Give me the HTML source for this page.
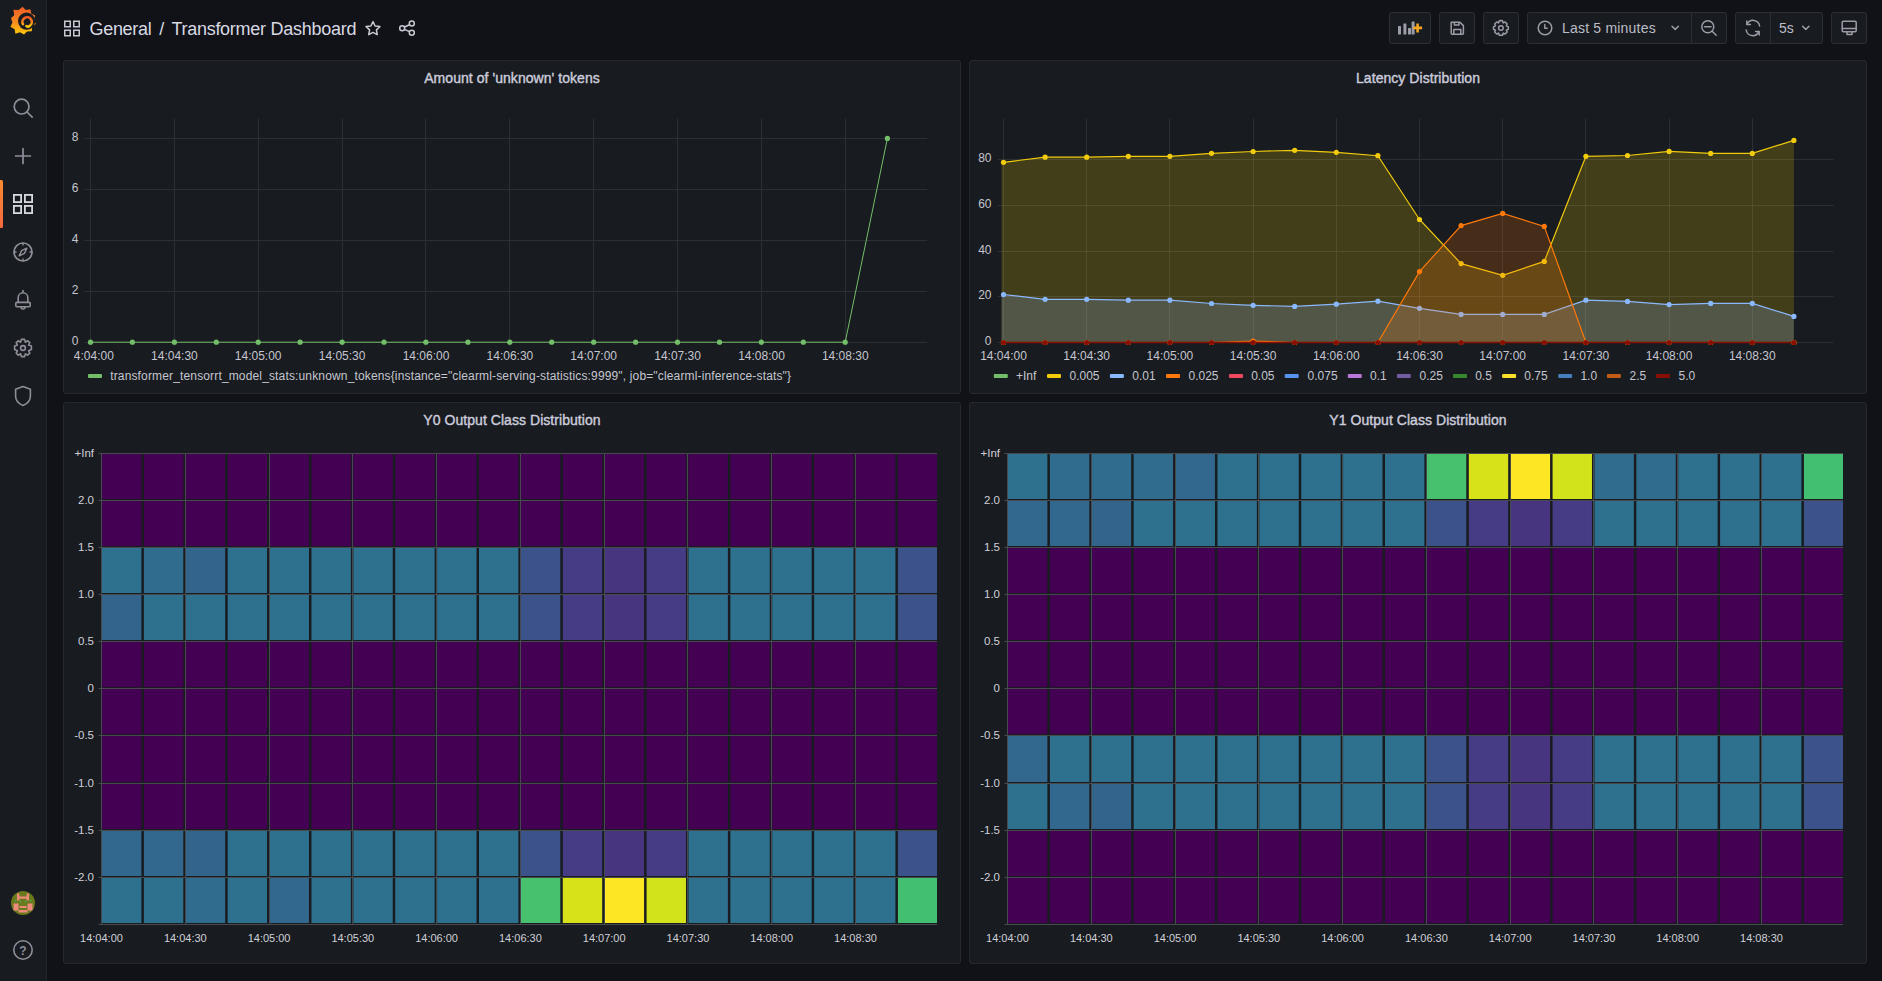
<!DOCTYPE html>
<html><head><meta charset="utf-8"><title>Transformer Dashboard - Grafana</title>
<style>
*{box-sizing:border-box;margin:0;padding:0}
html,body{width:1882px;height:981px;overflow:hidden;background:#111217;font-family:"Liberation Sans", sans-serif;color:#ccccdc}
.abs{position:absolute}
.sidebar{position:absolute;left:0;top:0;width:47px;height:981px;background:#181b1f;border-right:1px solid #22252a}
.panel{position:absolute;background:#181b1f;border:1px solid #25282d;border-radius:3px}
.ptitle{position:absolute;left:0;right:0;top:8.6px;text-align:center;font-size:14px;font-weight:400;letter-spacing:0.05px;-webkit-text-stroke:0.4px #ccccdc;color:#ccccdc;line-height:16px}
.btn{position:absolute;top:12px;height:32px;background:#181b1f;border:1px solid #2a2d33;border-radius:2px}
svg{position:absolute;left:0;top:0;overflow:visible}
</style></head><body>

<div class="sidebar"></div>
<svg width="47" height="981" viewBox="0 0 47 981">
<defs><linearGradient id="lg" x1="0" y1="0" x2="0" y2="1"><stop offset="0" stop-color="#f05a28"/><stop offset="0.55" stop-color="#f58a1f"/><stop offset="1" stop-color="#fbca0a"/></linearGradient></defs>
<g transform="translate(23.2,20.6)">
<path fill="url(#lg)" d="M-0.6,-13.8 L2.6,-10.6 L7.2,-11.4 L8.0,-7.0 L12.0,-5.0 L10.8,-0.8 L12.6,3.4 L9.0,6.0 L8.6,10.6 L3.8,10.8 L0.8,13.8 L-3.2,11.6 L-7.8,13.2 L-8.6,8.6 L-12.8,6.2 L-10.8,1.8 L-12.2,-2.6 L-9.0,-5.4 L-9.8,-10.8 L-4.6,-10.6 Z"/>
<circle cx="3.4" cy="0.5" r="8.6" fill="#181b1f"/>
<path fill="none" stroke="url(#lg)" stroke-width="2.6" stroke-linecap="round" d="M-0.2,3.6 A4.7,4.7 0 1 1 6.4,5.3 Q4.8,6.6 3.2,5.4"/>
</g>
<g fill="none" stroke="#8e8e9a" stroke-width="1.7" stroke-linecap="round" stroke-linejoin="round">
<circle cx="21.6" cy="106.6" r="7.4"/><path d="M27.0,112.0 L32.2,117.2"/>
<path d="M23,148.6 V163.4 M15.6,156 H30.4"/>
<circle cx="23" cy="252" r="9"/><path d="M23,243.2 V245 M23,259 V260.8 M14.2,252 H16 M30,252 H31.8" stroke-width="1.4"/>
<path d="M26.8,248.2 L24.4,253.4 L19.2,255.8 L21.6,250.6 Z" stroke-width="1.4"/>
<path d="M18.2,302.4 V297.6 A4.8,4.8 0 0 1 27.8,297.6 V302.4 M21,307 A2,2 0 0 0 25,307 M23,290.6 V292.6" stroke-width="1.6"/><rect x="15.8" y="302.4" width="14.4" height="4.4" rx="1" stroke-width="1.6"/>
<path d="M23,386.5 L30.4,389.2 V396 C30.4,400.6 27.4,403.8 23,405.5 C18.6,403.8 15.6,400.6 15.6,396 V389.2 Z" stroke-width="1.6"/>
<circle cx="23" cy="348" r="2.4" stroke-width="1.6"/>
<circle cx="23" cy="950" r="9.2" stroke-width="1.6"/>
</g>
<path fill="none" stroke="#8e8e9a" stroke-width="1.6" d="M23,339.4 L24.6,339.4 L25.4,342.2 L27.8,340.8 L29.8,342.6 L28.6,345.0 L31.4,346.0 V349.6 L28.6,350.8 L29.8,353.2 L27.6,355.2 L25.4,353.8 L24.6,356.6 H21.4 L20.6,353.8 L18.2,355.2 L16.2,353.2 L17.4,350.8 L14.6,349.6 V346.0 L17.4,345.0 L16.2,342.6 L18.2,340.8 L20.6,342.2 L21.4,339.4 Z" stroke-linejoin="round"/>
<text x="23" y="954.6" text-anchor="middle" font-family="Liberation Sans" font-weight="700" font-size="12" fill="#8e8e9a">?</text>
<g fill="none" stroke="#d8d9e0" stroke-width="1.8">
<rect x="13.9" y="194.9" width="7.2" height="7.2"/><rect x="24.9" y="194.9" width="7.2" height="7.2"/>
<rect x="13.9" y="205.9" width="7.2" height="7.2"/><rect x="24.9" y="205.9" width="7.2" height="7.2"/>
</g>
<defs><linearGradient id="ob" x1="0" y1="0" x2="0" y2="1"><stop offset="0" stop-color="#fd8a30"/><stop offset="1" stop-color="#f4683f"/></linearGradient></defs><rect x="-2" y="180" width="5" height="48" rx="1.5" fill="url(#ob)"/>
<circle cx="23" cy="903" r="12" fill="#697a1c"/>
<g fill="#ee8a7c">
<rect x="17" y="893.5" width="2.4" height="7"/><rect x="26.6" y="893.5" width="2.4" height="7"/><rect x="17" y="896.5" width="12" height="2.2"/>
<rect x="13.5" y="903.5" width="5" height="7"/><rect x="27.5" y="903.5" width="5" height="7"/><rect x="19.5" y="906" width="7" height="2"/><rect x="18.5" y="910" width="9" height="2.5"/>
</g>
<g fill="#3cb878"><rect x="20" y="901" width="1.2" height="1.2"/><rect x="25" y="901" width="1.2" height="1.2"/><rect x="15" y="900" width="1.2" height="1.2"/><rect x="30" y="900" width="1.2" height="1.2"/></g>
</svg>
<svg width="1882" height="56" viewBox="0 0 1882 56">
<g fill="none" stroke="#c7c8d2" stroke-width="1.5">
<rect x="64.75" y="21.25" width="5.5" height="5.5"/><rect x="73.75" y="21.25" width="5.5" height="5.5"/>
<rect x="64.75" y="30.25" width="5.5" height="5.5"/><rect x="73.75" y="30.25" width="5.5" height="5.5"/>
</g>
<g fill="none" stroke="#c7c8d2" stroke-width="1.5" stroke-linejoin="round" stroke-linecap="round">
<path d="M373,21.6 L375.1,26.0 L379.9,26.6 L376.4,29.9 L377.3,34.6 L373,32.3 L368.7,34.6 L369.6,29.9 L366.1,26.6 L370.9,26.0 Z"/>
<circle cx="411.8" cy="23.6" r="2.5"/><circle cx="402.2" cy="28.2" r="2.5"/><circle cx="411.8" cy="32.8" r="2.5"/>
<path d="M404.5,27.0 L409.5,24.8 M404.5,29.4 L409.5,31.6"/>
</g>
<text x="89.5" y="34.8" font-family="Liberation Sans" font-size="18" letter-spacing="-0.3" fill="#d8d9e3">General</text>
<text x="159.2" y="34.8" font-family="Liberation Sans" font-size="18" fill="#d8d9e3">/</text><text x="171.4" y="34.8" font-family="Liberation Sans" font-size="18" letter-spacing="-0.27" fill="#d8d9e3">Transformer Dashboard</text>
</svg>
<svg width="1882" height="56" viewBox="0 0 1882 56">
<rect x="1389.5" y="12.5" width="41" height="31" rx="2" fill="#181b1f" stroke="#2b2e34" stroke-width="1"/>
<rect x="1439.5" y="12.5" width="35" height="31" rx="2" fill="#181b1f" stroke="#2b2e34" stroke-width="1"/>
<rect x="1483.5" y="12.5" width="35" height="31" rx="2" fill="#181b1f" stroke="#2b2e34" stroke-width="1"/>
<rect x="1527.5" y="12.5" width="199" height="31" rx="2" fill="#181b1f" stroke="#2b2e34" stroke-width="1"/>
<path d="M1691.5,13 V43" stroke="#2b2e34"/>
<rect x="1735.5" y="12.5" width="87" height="31" rx="2" fill="#181b1f" stroke="#2b2e34" stroke-width="1"/>
<path d="M1770.5,13 V43" stroke="#2b2e34"/>
<rect x="1831.5" y="12.5" width="35" height="31" rx="2" fill="#181b1f" stroke="#2b2e34" stroke-width="1"/>
<g fill="#9c9ca8">
<rect x="1398" y="26" width="3" height="8.5" rx="0.5"/><rect x="1403.4" y="23.5" width="3" height="11" rx="0.5"/>
<rect x="1408" y="28" width="3" height="6.5" rx="0.5"/><rect x="1411.6" y="21.5" width="3" height="13" rx="0.5"/>
</g>
<path d="M1417.6,23.4 V32.4 M1413.1,27.9 H1422.1" stroke="#f5a623" stroke-width="2.6"/>
<g fill="none" stroke="#9c9ca8" stroke-width="1.5" stroke-linejoin="round" stroke-linecap="round">
<path d="M1451.2,22.2 H1460 L1463.4,25.6 V33.2 Q1463.4,34.2 1462.4,34.2 H1452.2 Q1451.2,34.2 1451.2,33.2 Z"/>
<path d="M1454.4,22.4 V25 H1459 V22.4 M1453.8,34 V29.4 H1460.8 V34"/>
<circle cx="1500.9" cy="28" r="2.3"/>
<path d="M1500.9,20.6 L1502.5,20.8 L1503.2,22.9 L1505.1,22.0 L1507.2,24.0 L1506.3,25.9 L1508.3,26.7 V29.3 L1506.3,30.1 L1507.2,32.0 L1505.1,34.0 L1503.2,33.1 L1502.5,35.2 H1499.3 L1498.6,33.1 L1496.7,34.0 L1494.6,32.0 L1495.5,30.1 L1493.5,29.3 V26.7 L1495.5,25.9 L1494.6,24.0 L1496.7,22.0 L1498.6,22.9 L1499.3,20.8 Z"/>
<circle cx="1545" cy="28" r="6.8"/><path d="M1544.8,24.4 V28.2 H1547.2" stroke-width="1.4"/>
<path d="M1672,26.2 L1675.2,29.4 L1678.4,26.2"/>
<circle cx="1707.8" cy="26.8" r="6"/><path d="M1704.6,26.8 H1711 M1712.2,31.2 L1716.2,35.2"/>
<path d="M1759.6,26 A6.6,6.6 0 0 0 1747,24.4 M1746.2,30 A6.6,6.6 0 0 0 1758.8,31.6"/>
<path d="M1746.8,21 V24.6 H1750.4 M1759.2,35 V31.4 H1755.6"/>
<path d="M1802.6,26.2 L1805.8,29.4 L1809,26.2"/>
<rect x="1842.2" y="21.2" width="14" height="10.6" rx="1.2"/><path d="M1842.4,28.6 H1856 M1847,32 V34.6 H1852 V32"/>
</g>
<text x="1562" y="32.9" font-family="Liberation Sans" font-size="14" letter-spacing="0.2" fill="#bcbdc8">Last 5 minutes</text>
<text x="1779" y="32.9" font-family="Liberation Sans" font-size="14" fill="#bcbdc8">5s</text>
</svg>
<div class="panel" style="left:63px;top:60px;width:898px;height:334px"><div class="ptitle">Amount of &#39;unknown&#39; tokens</div></div>
<div class="panel" style="left:969px;top:60px;width:898px;height:334px"><div class="ptitle">Latency Distribution</div></div>
<div class="panel" style="left:63px;top:402px;width:898px;height:562px"><div class="ptitle">Y0 Output Class Distribution</div></div>
<div class="panel" style="left:969px;top:402px;width:898px;height:562px"><div class="ptitle">Y1 Output Class Distribution</div></div>
<svg width="1882" height="981" viewBox="0 0 1882 981"><defs><clipPath id="clip1"><rect x="73.6" y="340" width="880" height="30"/></clipPath><clipPath id="clip2"><rect x="979" y="340" width="880" height="30"/></clipPath></defs>
<g font-family="Liberation Sans">
<path d="M84.5,342.5 H927.2" stroke="#2c2f34" stroke-width="1"/>
<path d="M84.5,291.5 H927.2" stroke="#2c2f34" stroke-width="1"/>
<path d="M84.5,240.5 H927.2" stroke="#2c2f34" stroke-width="1"/>
<path d="M84.5,189.5 H927.2" stroke="#2c2f34" stroke-width="1"/>
<path d="M84.5,138.5 H927.2" stroke="#2c2f34" stroke-width="1"/>
<path d="M90.5,118.6 V346.2" stroke="#2c2f34" stroke-width="1"/>
<path d="M174.5,118.6 V346.2" stroke="#2c2f34" stroke-width="1"/>
<path d="M258.5,118.6 V346.2" stroke="#2c2f34" stroke-width="1"/>
<path d="M342.5,118.6 V346.2" stroke="#2c2f34" stroke-width="1"/>
<path d="M425.5,118.6 V346.2" stroke="#2c2f34" stroke-width="1"/>
<path d="M509.5,118.6 V346.2" stroke="#2c2f34" stroke-width="1"/>
<path d="M593.5,118.6 V346.2" stroke="#2c2f34" stroke-width="1"/>
<path d="M677.5,118.6 V346.2" stroke="#2c2f34" stroke-width="1"/>
<path d="M761.5,118.6 V346.2" stroke="#2c2f34" stroke-width="1"/>
<path d="M845.5,118.6 V346.2" stroke="#2c2f34" stroke-width="1"/>
<text x="78.5" y="344.9" text-anchor="end" font-size="12" fill="#c5c6cf">0</text>
<text x="78.5" y="293.9" text-anchor="end" font-size="12" fill="#c5c6cf">2</text>
<text x="78.5" y="242.9" text-anchor="end" font-size="12" fill="#c5c6cf">4</text>
<text x="78.5" y="191.9" text-anchor="end" font-size="12" fill="#c5c6cf">6</text>
<text x="78.5" y="140.9" text-anchor="end" font-size="12" fill="#c5c6cf">8</text>
<g clip-path="url(#clip1)">
<text x="90.5" y="359.8" text-anchor="middle" font-size="12" fill="#c5c6cf">14:04:00</text>
<text x="174.4" y="359.8" text-anchor="middle" font-size="12" fill="#c5c6cf">14:04:30</text>
<text x="258.2" y="359.8" text-anchor="middle" font-size="12" fill="#c5c6cf">14:05:00</text>
<text x="342.1" y="359.8" text-anchor="middle" font-size="12" fill="#c5c6cf">14:05:30</text>
<text x="426.0" y="359.8" text-anchor="middle" font-size="12" fill="#c5c6cf">14:06:00</text>
<text x="509.9" y="359.8" text-anchor="middle" font-size="12" fill="#c5c6cf">14:06:30</text>
<text x="593.7" y="359.8" text-anchor="middle" font-size="12" fill="#c5c6cf">14:07:00</text>
<text x="677.6" y="359.8" text-anchor="middle" font-size="12" fill="#c5c6cf">14:07:30</text>
<text x="761.5" y="359.8" text-anchor="middle" font-size="12" fill="#c5c6cf">14:08:00</text>
<text x="845.3" y="359.8" text-anchor="middle" font-size="12" fill="#c5c6cf">14:08:30</text>
</g>
<path fill="none" stroke="#73bf69" stroke-width="1" d="M90.5,342.2 L132.4,342.2 L174.4,342.2 L216.3,342.2 L258.2,342.2 L300.1,342.2 L342.1,342.2 L384.0,342.2 L425.9,342.2 L467.9,342.2 L509.8,342.2 L551.7,342.2 L593.7,342.2 L635.6,342.2 L677.5,342.2 L719.5,342.2 L761.4,342.2 L803.3,342.2 L845.2,342.2 L887.4,138.4"/>
<circle cx="90.5" cy="342.2" r="2.6" fill="#73bf69"/>
<circle cx="132.4" cy="342.2" r="2.6" fill="#73bf69"/>
<circle cx="174.4" cy="342.2" r="2.6" fill="#73bf69"/>
<circle cx="216.3" cy="342.2" r="2.6" fill="#73bf69"/>
<circle cx="258.2" cy="342.2" r="2.6" fill="#73bf69"/>
<circle cx="300.1" cy="342.2" r="2.6" fill="#73bf69"/>
<circle cx="342.1" cy="342.2" r="2.6" fill="#73bf69"/>
<circle cx="384.0" cy="342.2" r="2.6" fill="#73bf69"/>
<circle cx="425.9" cy="342.2" r="2.6" fill="#73bf69"/>
<circle cx="467.9" cy="342.2" r="2.6" fill="#73bf69"/>
<circle cx="509.8" cy="342.2" r="2.6" fill="#73bf69"/>
<circle cx="551.7" cy="342.2" r="2.6" fill="#73bf69"/>
<circle cx="593.7" cy="342.2" r="2.6" fill="#73bf69"/>
<circle cx="635.6" cy="342.2" r="2.6" fill="#73bf69"/>
<circle cx="677.5" cy="342.2" r="2.6" fill="#73bf69"/>
<circle cx="719.5" cy="342.2" r="2.6" fill="#73bf69"/>
<circle cx="761.4" cy="342.2" r="2.6" fill="#73bf69"/>
<circle cx="803.3" cy="342.2" r="2.6" fill="#73bf69"/>
<circle cx="845.2" cy="342.2" r="2.6" fill="#73bf69"/>
<circle cx="887.4" cy="138.4" r="2.6" fill="#73bf69"/>
<rect x="88" y="374" width="14" height="4" rx="1" fill="#73bf69"/>
<text x="110.2" y="379.6" font-size="12" letter-spacing="0.15" fill="#c5c6cf">transformer_tensorrt_model_stats:unknown_tokens{instance="clearml-serving-statistics:9999", job="clearml-inference-stats"}</text>
</g><g font-family="Liberation Sans">
<path d="M997.6,342.5 H1833.6" stroke="#2c2f34" stroke-width="1"/>
<path d="M997.6,296.5 H1833.6" stroke="#2c2f34" stroke-width="1"/>
<path d="M997.6,251.5 H1833.6" stroke="#2c2f34" stroke-width="1"/>
<path d="M997.6,205.5 H1833.6" stroke="#2c2f34" stroke-width="1"/>
<path d="M997.6,159.5 H1833.6" stroke="#2c2f34" stroke-width="1"/>
<path d="M1003.5,118.6 V345.8" stroke="#2c2f34" stroke-width="1"/>
<path d="M1086.5,118.6 V345.8" stroke="#2c2f34" stroke-width="1"/>
<path d="M1169.5,118.6 V345.8" stroke="#2c2f34" stroke-width="1"/>
<path d="M1253.5,118.6 V345.8" stroke="#2c2f34" stroke-width="1"/>
<path d="M1336.5,118.6 V345.8" stroke="#2c2f34" stroke-width="1"/>
<path d="M1419.5,118.6 V345.8" stroke="#2c2f34" stroke-width="1"/>
<path d="M1502.5,118.6 V345.8" stroke="#2c2f34" stroke-width="1"/>
<path d="M1585.5,118.6 V345.8" stroke="#2c2f34" stroke-width="1"/>
<path d="M1669.5,118.6 V345.8" stroke="#2c2f34" stroke-width="1"/>
<path d="M1752.5,118.6 V345.8" stroke="#2c2f34" stroke-width="1"/>
<text x="991.5" y="345.4" text-anchor="end" font-size="12" fill="#c5c6cf">0</text>
<text x="991.5" y="299.4" text-anchor="end" font-size="12" fill="#c5c6cf">20</text>
<text x="991.5" y="254.4" text-anchor="end" font-size="12" fill="#c5c6cf">40</text>
<text x="991.5" y="208.4" text-anchor="end" font-size="12" fill="#c5c6cf">60</text>
<text x="991.5" y="162.4" text-anchor="end" font-size="12" fill="#c5c6cf">80</text>
<g clip-path="url(#clip2)">
<text x="1003.5" y="359.8" text-anchor="middle" font-size="12" fill="#c5c6cf">14:04:00</text>
<text x="1086.7" y="359.8" text-anchor="middle" font-size="12" fill="#c5c6cf">14:04:30</text>
<text x="1169.9" y="359.8" text-anchor="middle" font-size="12" fill="#c5c6cf">14:05:00</text>
<text x="1253.1" y="359.8" text-anchor="middle" font-size="12" fill="#c5c6cf">14:05:30</text>
<text x="1336.3" y="359.8" text-anchor="middle" font-size="12" fill="#c5c6cf">14:06:00</text>
<text x="1419.5" y="359.8" text-anchor="middle" font-size="12" fill="#c5c6cf">14:06:30</text>
<text x="1502.7" y="359.8" text-anchor="middle" font-size="12" fill="#c5c6cf">14:07:00</text>
<text x="1585.9" y="359.8" text-anchor="middle" font-size="12" fill="#c5c6cf">14:07:30</text>
<text x="1669.1" y="359.8" text-anchor="middle" font-size="12" fill="#c5c6cf">14:08:00</text>
<text x="1752.3" y="359.8" text-anchor="middle" font-size="12" fill="#c5c6cf">14:08:30</text>
</g>
<path fill="#73bf69" fill-opacity="0.2" d="M1001.5,342.5 L1001.5,342.5 L1003.5,342.5 L1045.1,342.5 L1086.7,342.5 L1128.3,342.5 L1169.9,342.5 L1211.5,342.5 L1253.1,342.5 L1294.7,342.5 L1336.3,342.5 L1377.9,342.5 L1419.5,342.5 L1461.1,342.5 L1502.7,342.5 L1544.3,342.5 L1585.9,342.5 L1627.5,342.5 L1669.1,342.5 L1710.7,342.5 L1752.3,342.5 L1793.9,342.5 L1793.9,342.5 Z"/>
<path fill="none" stroke="#73bf69" stroke-width="1.2" d="M1003.5,342.5 L1045.1,342.5 L1086.7,342.5 L1128.3,342.5 L1169.9,342.5 L1211.5,342.5 L1253.1,342.5 L1294.7,342.5 L1336.3,342.5 L1377.9,342.5 L1419.5,342.5 L1461.1,342.5 L1502.7,342.5 L1544.3,342.5 L1585.9,342.5 L1627.5,342.5 L1669.1,342.5 L1710.7,342.5 L1752.3,342.5 L1793.9,342.5"/>
<circle cx="1003.5" cy="342.5" r="2.6" fill="#73bf69"/>
<circle cx="1045.1" cy="342.5" r="2.6" fill="#73bf69"/>
<circle cx="1086.7" cy="342.5" r="2.6" fill="#73bf69"/>
<circle cx="1128.3" cy="342.5" r="2.6" fill="#73bf69"/>
<circle cx="1169.9" cy="342.5" r="2.6" fill="#73bf69"/>
<circle cx="1211.5" cy="342.5" r="2.6" fill="#73bf69"/>
<circle cx="1253.1" cy="342.5" r="2.6" fill="#73bf69"/>
<circle cx="1294.7" cy="342.5" r="2.6" fill="#73bf69"/>
<circle cx="1336.3" cy="342.5" r="2.6" fill="#73bf69"/>
<circle cx="1377.9" cy="342.5" r="2.6" fill="#73bf69"/>
<circle cx="1419.5" cy="342.5" r="2.6" fill="#73bf69"/>
<circle cx="1461.1" cy="342.5" r="2.6" fill="#73bf69"/>
<circle cx="1502.7" cy="342.5" r="2.6" fill="#73bf69"/>
<circle cx="1544.3" cy="342.5" r="2.6" fill="#73bf69"/>
<circle cx="1585.9" cy="342.5" r="2.6" fill="#73bf69"/>
<circle cx="1627.5" cy="342.5" r="2.6" fill="#73bf69"/>
<circle cx="1669.1" cy="342.5" r="2.6" fill="#73bf69"/>
<circle cx="1710.7" cy="342.5" r="2.6" fill="#73bf69"/>
<circle cx="1752.3" cy="342.5" r="2.6" fill="#73bf69"/>
<circle cx="1793.9" cy="342.5" r="2.6" fill="#73bf69"/>
<path fill="#f2cc0c" fill-opacity="0.2" d="M1001.5,342.5 L1001.5,162.3 L1003.5,162.3 L1045.1,157.2 L1086.7,157.2 L1128.3,156.3 L1169.9,156.3 L1211.5,153.3 L1253.1,151.5 L1294.7,150.3 L1336.3,152.3 L1377.9,155.7 L1419.5,219.5 L1461.1,263.6 L1502.7,275.3 L1544.3,261.4 L1585.9,156.3 L1627.5,155.5 L1669.1,151.4 L1710.7,153.4 L1752.3,153.4 L1793.9,140.4 L1793.9,342.5 Z"/>
<path fill="none" stroke="#f2cc0c" stroke-width="1.2" d="M1003.5,162.3 L1045.1,157.2 L1086.7,157.2 L1128.3,156.3 L1169.9,156.3 L1211.5,153.3 L1253.1,151.5 L1294.7,150.3 L1336.3,152.3 L1377.9,155.7 L1419.5,219.5 L1461.1,263.6 L1502.7,275.3 L1544.3,261.4 L1585.9,156.3 L1627.5,155.5 L1669.1,151.4 L1710.7,153.4 L1752.3,153.4 L1793.9,140.4"/>
<circle cx="1003.5" cy="162.3" r="2.6" fill="#f2cc0c"/>
<circle cx="1045.1" cy="157.2" r="2.6" fill="#f2cc0c"/>
<circle cx="1086.7" cy="157.2" r="2.6" fill="#f2cc0c"/>
<circle cx="1128.3" cy="156.3" r="2.6" fill="#f2cc0c"/>
<circle cx="1169.9" cy="156.3" r="2.6" fill="#f2cc0c"/>
<circle cx="1211.5" cy="153.3" r="2.6" fill="#f2cc0c"/>
<circle cx="1253.1" cy="151.5" r="2.6" fill="#f2cc0c"/>
<circle cx="1294.7" cy="150.3" r="2.6" fill="#f2cc0c"/>
<circle cx="1336.3" cy="152.3" r="2.6" fill="#f2cc0c"/>
<circle cx="1377.9" cy="155.7" r="2.6" fill="#f2cc0c"/>
<circle cx="1419.5" cy="219.5" r="2.6" fill="#f2cc0c"/>
<circle cx="1461.1" cy="263.6" r="2.6" fill="#f2cc0c"/>
<circle cx="1502.7" cy="275.3" r="2.6" fill="#f2cc0c"/>
<circle cx="1544.3" cy="261.4" r="2.6" fill="#f2cc0c"/>
<circle cx="1585.9" cy="156.3" r="2.6" fill="#f2cc0c"/>
<circle cx="1627.5" cy="155.5" r="2.6" fill="#f2cc0c"/>
<circle cx="1669.1" cy="151.4" r="2.6" fill="#f2cc0c"/>
<circle cx="1710.7" cy="153.4" r="2.6" fill="#f2cc0c"/>
<circle cx="1752.3" cy="153.4" r="2.6" fill="#f2cc0c"/>
<circle cx="1793.9" cy="140.4" r="2.6" fill="#f2cc0c"/>
<path fill="#8ab8ff" fill-opacity="0.2" d="M1001.5,342.5 L1001.5,294.5 L1003.5,294.5 L1045.1,299.3 L1086.7,299.3 L1128.3,300.2 L1169.9,300.2 L1211.5,303.5 L1253.1,305.3 L1294.7,306.4 L1336.3,304.2 L1377.9,301.2 L1419.5,308.3 L1461.1,314.4 L1502.7,314.4 L1544.3,314.4 L1585.9,300.2 L1627.5,301.4 L1669.1,304.6 L1710.7,303.4 L1752.3,303.4 L1793.9,316.4 L1793.9,342.5 Z"/>
<path fill="none" stroke="#8ab8ff" stroke-width="1.2" d="M1003.5,294.5 L1045.1,299.3 L1086.7,299.3 L1128.3,300.2 L1169.9,300.2 L1211.5,303.5 L1253.1,305.3 L1294.7,306.4 L1336.3,304.2 L1377.9,301.2 L1419.5,308.3 L1461.1,314.4 L1502.7,314.4 L1544.3,314.4 L1585.9,300.2 L1627.5,301.4 L1669.1,304.6 L1710.7,303.4 L1752.3,303.4 L1793.9,316.4"/>
<circle cx="1003.5" cy="294.5" r="2.6" fill="#8ab8ff"/>
<circle cx="1045.1" cy="299.3" r="2.6" fill="#8ab8ff"/>
<circle cx="1086.7" cy="299.3" r="2.6" fill="#8ab8ff"/>
<circle cx="1128.3" cy="300.2" r="2.6" fill="#8ab8ff"/>
<circle cx="1169.9" cy="300.2" r="2.6" fill="#8ab8ff"/>
<circle cx="1211.5" cy="303.5" r="2.6" fill="#8ab8ff"/>
<circle cx="1253.1" cy="305.3" r="2.6" fill="#8ab8ff"/>
<circle cx="1294.7" cy="306.4" r="2.6" fill="#8ab8ff"/>
<circle cx="1336.3" cy="304.2" r="2.6" fill="#8ab8ff"/>
<circle cx="1377.9" cy="301.2" r="2.6" fill="#8ab8ff"/>
<circle cx="1419.5" cy="308.3" r="2.6" fill="#8ab8ff"/>
<circle cx="1461.1" cy="314.4" r="2.6" fill="#8ab8ff"/>
<circle cx="1502.7" cy="314.4" r="2.6" fill="#8ab8ff"/>
<circle cx="1544.3" cy="314.4" r="2.6" fill="#8ab8ff"/>
<circle cx="1585.9" cy="300.2" r="2.6" fill="#8ab8ff"/>
<circle cx="1627.5" cy="301.4" r="2.6" fill="#8ab8ff"/>
<circle cx="1669.1" cy="304.6" r="2.6" fill="#8ab8ff"/>
<circle cx="1710.7" cy="303.4" r="2.6" fill="#8ab8ff"/>
<circle cx="1752.3" cy="303.4" r="2.6" fill="#8ab8ff"/>
<circle cx="1793.9" cy="316.4" r="2.6" fill="#8ab8ff"/>
<path fill="#ff780a" fill-opacity="0.2" d="M1001.5,342.5 L1001.5,342.5 L1003.5,342.5 L1045.1,342.5 L1086.7,342.5 L1128.3,342.5 L1169.9,342.5 L1211.5,342.5 L1253.1,341.0 L1294.7,342.5 L1336.3,342.5 L1377.9,342.5 L1419.5,271.6 L1461.1,225.6 L1502.7,213.4 L1544.3,226.4 L1585.9,342.5 L1627.5,342.5 L1669.1,342.5 L1710.7,342.5 L1752.3,342.5 L1793.9,342.5 L1793.9,342.5 Z"/>
<path fill="none" stroke="#ff780a" stroke-width="1.2" d="M1003.5,342.5 L1045.1,342.5 L1086.7,342.5 L1128.3,342.5 L1169.9,342.5 L1211.5,342.5 L1253.1,341.0 L1294.7,342.5 L1336.3,342.5 L1377.9,342.5 L1419.5,271.6 L1461.1,225.6 L1502.7,213.4 L1544.3,226.4 L1585.9,342.5 L1627.5,342.5 L1669.1,342.5 L1710.7,342.5 L1752.3,342.5 L1793.9,342.5"/>
<circle cx="1003.5" cy="342.5" r="2.6" fill="#ff780a"/>
<circle cx="1045.1" cy="342.5" r="2.6" fill="#ff780a"/>
<circle cx="1086.7" cy="342.5" r="2.6" fill="#ff780a"/>
<circle cx="1128.3" cy="342.5" r="2.6" fill="#ff780a"/>
<circle cx="1169.9" cy="342.5" r="2.6" fill="#ff780a"/>
<circle cx="1211.5" cy="342.5" r="2.6" fill="#ff780a"/>
<circle cx="1253.1" cy="341.0" r="2.6" fill="#ff780a"/>
<circle cx="1294.7" cy="342.5" r="2.6" fill="#ff780a"/>
<circle cx="1336.3" cy="342.5" r="2.6" fill="#ff780a"/>
<circle cx="1377.9" cy="342.5" r="2.6" fill="#ff780a"/>
<circle cx="1419.5" cy="271.6" r="2.6" fill="#ff780a"/>
<circle cx="1461.1" cy="225.6" r="2.6" fill="#ff780a"/>
<circle cx="1502.7" cy="213.4" r="2.6" fill="#ff780a"/>
<circle cx="1544.3" cy="226.4" r="2.6" fill="#ff780a"/>
<circle cx="1585.9" cy="342.5" r="2.6" fill="#ff780a"/>
<circle cx="1627.5" cy="342.5" r="2.6" fill="#ff780a"/>
<circle cx="1669.1" cy="342.5" r="2.6" fill="#ff780a"/>
<circle cx="1710.7" cy="342.5" r="2.6" fill="#ff780a"/>
<circle cx="1752.3" cy="342.5" r="2.6" fill="#ff780a"/>
<circle cx="1793.9" cy="342.5" r="2.6" fill="#ff780a"/>
<path fill="none" stroke="#890f02" stroke-width="1.5" d="M1003.5,342.5 L1045.1,342.5 L1086.7,342.5 L1128.3,342.5 L1169.9,342.5 L1211.5,342.5 L1253.1,342.5 L1294.7,342.5 L1336.3,342.5 L1377.9,342.5 L1419.5,342.5 L1461.1,342.5 L1502.7,342.5 L1544.3,342.5 L1585.9,342.5 L1627.5,342.5 L1669.1,342.5 L1710.7,342.5 L1752.3,342.5 L1793.9,342.5"/>
<circle cx="1003.5" cy="342.5" r="2.6" fill="#890f02"/>
<circle cx="1045.1" cy="342.5" r="2.6" fill="#890f02"/>
<circle cx="1086.7" cy="342.5" r="2.6" fill="#890f02"/>
<circle cx="1128.3" cy="342.5" r="2.6" fill="#890f02"/>
<circle cx="1169.9" cy="342.5" r="2.6" fill="#890f02"/>
<circle cx="1211.5" cy="342.5" r="2.6" fill="#890f02"/>
<circle cx="1253.1" cy="342.5" r="2.6" fill="#890f02"/>
<circle cx="1294.7" cy="342.5" r="2.6" fill="#890f02"/>
<circle cx="1336.3" cy="342.5" r="2.6" fill="#890f02"/>
<circle cx="1377.9" cy="342.5" r="2.6" fill="#890f02"/>
<circle cx="1419.5" cy="342.5" r="2.6" fill="#890f02"/>
<circle cx="1461.1" cy="342.5" r="2.6" fill="#890f02"/>
<circle cx="1502.7" cy="342.5" r="2.6" fill="#890f02"/>
<circle cx="1544.3" cy="342.5" r="2.6" fill="#890f02"/>
<circle cx="1585.9" cy="342.5" r="2.6" fill="#890f02"/>
<circle cx="1627.5" cy="342.5" r="2.6" fill="#890f02"/>
<circle cx="1669.1" cy="342.5" r="2.6" fill="#890f02"/>
<circle cx="1710.7" cy="342.5" r="2.6" fill="#890f02"/>
<circle cx="1752.3" cy="342.5" r="2.6" fill="#890f02"/>
<circle cx="1793.9" cy="342.5" r="2.6" fill="#890f02"/>
<rect x="993.8" y="374" width="14" height="4" rx="1" fill="#73bf69"/>
<text x="1016" y="379.6" font-size="12" fill="#c5c6cf">+Inf</text>
<rect x="1047" y="374" width="14" height="4" rx="1" fill="#f2cc0c"/>
<text x="1069.5" y="379.6" font-size="12" fill="#c5c6cf">0.005</text>
<rect x="1109.9" y="374" width="14" height="4" rx="1" fill="#8ab8ff"/>
<text x="1132.3" y="379.6" font-size="12" fill="#c5c6cf">0.01</text>
<rect x="1166" y="374" width="14" height="4" rx="1" fill="#ff780a"/>
<text x="1188.5" y="379.6" font-size="12" fill="#c5c6cf">0.025</text>
<rect x="1229" y="374" width="14" height="4" rx="1" fill="#f2495c"/>
<text x="1251.2" y="379.6" font-size="12" fill="#c5c6cf">0.05</text>
<rect x="1284.7" y="374" width="14" height="4" rx="1" fill="#5794f2"/>
<text x="1307.6" y="379.6" font-size="12" fill="#c5c6cf">0.075</text>
<rect x="1347.8" y="374" width="14" height="4" rx="1" fill="#b877d9"/>
<text x="1370" y="379.6" font-size="12" fill="#c5c6cf">0.1</text>
<rect x="1396.9" y="374" width="14" height="4" rx="1" fill="#705da0"/>
<text x="1419.6" y="379.6" font-size="12" fill="#c5c6cf">0.25</text>
<rect x="1453" y="374" width="14" height="4" rx="1" fill="#37872d"/>
<text x="1475.2" y="379.6" font-size="12" fill="#c5c6cf">0.5</text>
<rect x="1502.1" y="374" width="14" height="4" rx="1" fill="#fade2a"/>
<text x="1524.3" y="379.6" font-size="12" fill="#c5c6cf">0.75</text>
<rect x="1558.2" y="374" width="14" height="4" rx="1" fill="#447ebc"/>
<text x="1580.4" y="379.6" font-size="12" fill="#c5c6cf">1.0</text>
<rect x="1606.9" y="374" width="14" height="4" rx="1" fill="#c15c17"/>
<text x="1629.5" y="379.6" font-size="12" fill="#c5c6cf">2.5</text>
<rect x="1656" y="374" width="14" height="4" rx="1" fill="#890f02"/>
<text x="1678.6" y="379.6" font-size="12" fill="#c5c6cf">5.0</text>
</g></svg>
<svg width="1882" height="981" viewBox="0 0 1882 981"><g font-family="Liberation Sans">
<rect x="102.00" y="454.00" width="39.40" height="45.00" fill="#440154"/>
<rect x="143.89" y="454.00" width="39.40" height="45.00" fill="#440154"/>
<rect x="185.78" y="454.00" width="39.40" height="45.00" fill="#440154"/>
<rect x="227.67" y="454.00" width="39.40" height="45.00" fill="#440154"/>
<rect x="269.56" y="454.00" width="39.40" height="45.00" fill="#440154"/>
<rect x="311.45" y="454.00" width="39.40" height="45.00" fill="#440154"/>
<rect x="353.34" y="454.00" width="39.40" height="45.00" fill="#440154"/>
<rect x="395.23" y="454.00" width="39.40" height="45.00" fill="#440154"/>
<rect x="437.12" y="454.00" width="39.40" height="45.00" fill="#440154"/>
<rect x="479.01" y="454.00" width="39.40" height="45.00" fill="#440154"/>
<rect x="520.90" y="454.00" width="39.40" height="45.00" fill="#440154"/>
<rect x="562.79" y="454.00" width="39.40" height="45.00" fill="#440154"/>
<rect x="604.68" y="454.00" width="39.40" height="45.00" fill="#440154"/>
<rect x="646.57" y="454.00" width="39.40" height="45.00" fill="#440154"/>
<rect x="688.46" y="454.00" width="39.40" height="45.00" fill="#440154"/>
<rect x="730.35" y="454.00" width="39.40" height="45.00" fill="#440154"/>
<rect x="772.24" y="454.00" width="39.40" height="45.00" fill="#440154"/>
<rect x="814.13" y="454.00" width="39.40" height="45.00" fill="#440154"/>
<rect x="856.02" y="454.00" width="39.40" height="45.00" fill="#440154"/>
<rect x="897.91" y="454.00" width="39.09" height="45.00" fill="#440154"/>
<rect x="102.00" y="501.00" width="39.40" height="45.00" fill="#440154"/>
<rect x="143.89" y="501.00" width="39.40" height="45.00" fill="#440154"/>
<rect x="185.78" y="501.00" width="39.40" height="45.00" fill="#440154"/>
<rect x="227.67" y="501.00" width="39.40" height="45.00" fill="#440154"/>
<rect x="269.56" y="501.00" width="39.40" height="45.00" fill="#440154"/>
<rect x="311.45" y="501.00" width="39.40" height="45.00" fill="#440154"/>
<rect x="353.34" y="501.00" width="39.40" height="45.00" fill="#440154"/>
<rect x="395.23" y="501.00" width="39.40" height="45.00" fill="#440154"/>
<rect x="437.12" y="501.00" width="39.40" height="45.00" fill="#440154"/>
<rect x="479.01" y="501.00" width="39.40" height="45.00" fill="#440154"/>
<rect x="520.90" y="501.00" width="39.40" height="45.00" fill="#440154"/>
<rect x="562.79" y="501.00" width="39.40" height="45.00" fill="#440154"/>
<rect x="604.68" y="501.00" width="39.40" height="45.00" fill="#440154"/>
<rect x="646.57" y="501.00" width="39.40" height="45.00" fill="#440154"/>
<rect x="688.46" y="501.00" width="39.40" height="45.00" fill="#440154"/>
<rect x="730.35" y="501.00" width="39.40" height="45.00" fill="#440154"/>
<rect x="772.24" y="501.00" width="39.40" height="45.00" fill="#440154"/>
<rect x="814.13" y="501.00" width="39.40" height="45.00" fill="#440154"/>
<rect x="856.02" y="501.00" width="39.40" height="45.00" fill="#440154"/>
<rect x="897.91" y="501.00" width="39.09" height="45.00" fill="#440154"/>
<rect x="102.00" y="548.00" width="39.40" height="45.00" fill="#2e718f"/>
<rect x="143.89" y="548.00" width="39.40" height="45.00" fill="#306c8e"/>
<rect x="185.78" y="548.00" width="39.40" height="45.00" fill="#33658c"/>
<rect x="227.67" y="548.00" width="39.40" height="45.00" fill="#2e718f"/>
<rect x="269.56" y="548.00" width="39.40" height="45.00" fill="#2e718f"/>
<rect x="311.45" y="548.00" width="39.40" height="45.00" fill="#2e718f"/>
<rect x="353.34" y="548.00" width="39.40" height="45.00" fill="#2e718f"/>
<rect x="395.23" y="548.00" width="39.40" height="45.00" fill="#2e718f"/>
<rect x="437.12" y="548.00" width="39.40" height="45.00" fill="#2e718f"/>
<rect x="479.01" y="548.00" width="39.40" height="45.00" fill="#2e718f"/>
<rect x="520.90" y="548.00" width="39.40" height="45.00" fill="#3b528b"/>
<rect x="562.79" y="548.00" width="39.40" height="45.00" fill="#463c86"/>
<rect x="604.68" y="548.00" width="39.40" height="45.00" fill="#48357f"/>
<rect x="646.57" y="548.00" width="39.40" height="45.00" fill="#463c86"/>
<rect x="688.46" y="548.00" width="39.40" height="45.00" fill="#2e718f"/>
<rect x="730.35" y="548.00" width="39.40" height="45.00" fill="#2e718f"/>
<rect x="772.24" y="548.00" width="39.40" height="45.00" fill="#2e718f"/>
<rect x="814.13" y="548.00" width="39.40" height="45.00" fill="#2e718f"/>
<rect x="856.02" y="548.00" width="39.40" height="45.00" fill="#2e718f"/>
<rect x="897.91" y="548.00" width="39.09" height="45.00" fill="#3b528b"/>
<rect x="102.00" y="595.00" width="39.40" height="45.00" fill="#33658c"/>
<rect x="143.89" y="595.00" width="39.40" height="45.00" fill="#2e718f"/>
<rect x="185.78" y="595.00" width="39.40" height="45.00" fill="#2e718f"/>
<rect x="227.67" y="595.00" width="39.40" height="45.00" fill="#2e718f"/>
<rect x="269.56" y="595.00" width="39.40" height="45.00" fill="#2e718f"/>
<rect x="311.45" y="595.00" width="39.40" height="45.00" fill="#2e718f"/>
<rect x="353.34" y="595.00" width="39.40" height="45.00" fill="#2e718f"/>
<rect x="395.23" y="595.00" width="39.40" height="45.00" fill="#2e718f"/>
<rect x="437.12" y="595.00" width="39.40" height="45.00" fill="#2e718f"/>
<rect x="479.01" y="595.00" width="39.40" height="45.00" fill="#2e718f"/>
<rect x="520.90" y="595.00" width="39.40" height="45.00" fill="#3b528b"/>
<rect x="562.79" y="595.00" width="39.40" height="45.00" fill="#463c86"/>
<rect x="604.68" y="595.00" width="39.40" height="45.00" fill="#48357f"/>
<rect x="646.57" y="595.00" width="39.40" height="45.00" fill="#463c86"/>
<rect x="688.46" y="595.00" width="39.40" height="45.00" fill="#2e718f"/>
<rect x="730.35" y="595.00" width="39.40" height="45.00" fill="#2e718f"/>
<rect x="772.24" y="595.00" width="39.40" height="45.00" fill="#2e718f"/>
<rect x="814.13" y="595.00" width="39.40" height="45.00" fill="#2e718f"/>
<rect x="856.02" y="595.00" width="39.40" height="45.00" fill="#2e718f"/>
<rect x="897.91" y="595.00" width="39.09" height="45.00" fill="#3b528b"/>
<rect x="102.00" y="642.00" width="39.40" height="45.00" fill="#440154"/>
<rect x="143.89" y="642.00" width="39.40" height="45.00" fill="#440154"/>
<rect x="185.78" y="642.00" width="39.40" height="45.00" fill="#440154"/>
<rect x="227.67" y="642.00" width="39.40" height="45.00" fill="#440154"/>
<rect x="269.56" y="642.00" width="39.40" height="45.00" fill="#440154"/>
<rect x="311.45" y="642.00" width="39.40" height="45.00" fill="#440154"/>
<rect x="353.34" y="642.00" width="39.40" height="45.00" fill="#440154"/>
<rect x="395.23" y="642.00" width="39.40" height="45.00" fill="#440154"/>
<rect x="437.12" y="642.00" width="39.40" height="45.00" fill="#440154"/>
<rect x="479.01" y="642.00" width="39.40" height="45.00" fill="#440154"/>
<rect x="520.90" y="642.00" width="39.40" height="45.00" fill="#440154"/>
<rect x="562.79" y="642.00" width="39.40" height="45.00" fill="#440154"/>
<rect x="604.68" y="642.00" width="39.40" height="45.00" fill="#440154"/>
<rect x="646.57" y="642.00" width="39.40" height="45.00" fill="#440154"/>
<rect x="688.46" y="642.00" width="39.40" height="45.00" fill="#440154"/>
<rect x="730.35" y="642.00" width="39.40" height="45.00" fill="#440154"/>
<rect x="772.24" y="642.00" width="39.40" height="45.00" fill="#440154"/>
<rect x="814.13" y="642.00" width="39.40" height="45.00" fill="#440154"/>
<rect x="856.02" y="642.00" width="39.40" height="45.00" fill="#440154"/>
<rect x="897.91" y="642.00" width="39.09" height="45.00" fill="#440154"/>
<rect x="102.00" y="689.00" width="39.40" height="45.00" fill="#440154"/>
<rect x="143.89" y="689.00" width="39.40" height="45.00" fill="#440154"/>
<rect x="185.78" y="689.00" width="39.40" height="45.00" fill="#440154"/>
<rect x="227.67" y="689.00" width="39.40" height="45.00" fill="#440154"/>
<rect x="269.56" y="689.00" width="39.40" height="45.00" fill="#440154"/>
<rect x="311.45" y="689.00" width="39.40" height="45.00" fill="#440154"/>
<rect x="353.34" y="689.00" width="39.40" height="45.00" fill="#440154"/>
<rect x="395.23" y="689.00" width="39.40" height="45.00" fill="#440154"/>
<rect x="437.12" y="689.00" width="39.40" height="45.00" fill="#440154"/>
<rect x="479.01" y="689.00" width="39.40" height="45.00" fill="#440154"/>
<rect x="520.90" y="689.00" width="39.40" height="45.00" fill="#440154"/>
<rect x="562.79" y="689.00" width="39.40" height="45.00" fill="#440154"/>
<rect x="604.68" y="689.00" width="39.40" height="45.00" fill="#440154"/>
<rect x="646.57" y="689.00" width="39.40" height="45.00" fill="#440154"/>
<rect x="688.46" y="689.00" width="39.40" height="45.00" fill="#440154"/>
<rect x="730.35" y="689.00" width="39.40" height="45.00" fill="#440154"/>
<rect x="772.24" y="689.00" width="39.40" height="45.00" fill="#440154"/>
<rect x="814.13" y="689.00" width="39.40" height="45.00" fill="#440154"/>
<rect x="856.02" y="689.00" width="39.40" height="45.00" fill="#440154"/>
<rect x="897.91" y="689.00" width="39.09" height="45.00" fill="#440154"/>
<rect x="102.00" y="736.00" width="39.40" height="46.00" fill="#440154"/>
<rect x="143.89" y="736.00" width="39.40" height="46.00" fill="#440154"/>
<rect x="185.78" y="736.00" width="39.40" height="46.00" fill="#440154"/>
<rect x="227.67" y="736.00" width="39.40" height="46.00" fill="#440154"/>
<rect x="269.56" y="736.00" width="39.40" height="46.00" fill="#440154"/>
<rect x="311.45" y="736.00" width="39.40" height="46.00" fill="#440154"/>
<rect x="353.34" y="736.00" width="39.40" height="46.00" fill="#440154"/>
<rect x="395.23" y="736.00" width="39.40" height="46.00" fill="#440154"/>
<rect x="437.12" y="736.00" width="39.40" height="46.00" fill="#440154"/>
<rect x="479.01" y="736.00" width="39.40" height="46.00" fill="#440154"/>
<rect x="520.90" y="736.00" width="39.40" height="46.00" fill="#440154"/>
<rect x="562.79" y="736.00" width="39.40" height="46.00" fill="#440154"/>
<rect x="604.68" y="736.00" width="39.40" height="46.00" fill="#440154"/>
<rect x="646.57" y="736.00" width="39.40" height="46.00" fill="#440154"/>
<rect x="688.46" y="736.00" width="39.40" height="46.00" fill="#440154"/>
<rect x="730.35" y="736.00" width="39.40" height="46.00" fill="#440154"/>
<rect x="772.24" y="736.00" width="39.40" height="46.00" fill="#440154"/>
<rect x="814.13" y="736.00" width="39.40" height="46.00" fill="#440154"/>
<rect x="856.02" y="736.00" width="39.40" height="46.00" fill="#440154"/>
<rect x="897.91" y="736.00" width="39.09" height="46.00" fill="#440154"/>
<rect x="102.00" y="784.00" width="39.40" height="45.00" fill="#440154"/>
<rect x="143.89" y="784.00" width="39.40" height="45.00" fill="#440154"/>
<rect x="185.78" y="784.00" width="39.40" height="45.00" fill="#440154"/>
<rect x="227.67" y="784.00" width="39.40" height="45.00" fill="#440154"/>
<rect x="269.56" y="784.00" width="39.40" height="45.00" fill="#440154"/>
<rect x="311.45" y="784.00" width="39.40" height="45.00" fill="#440154"/>
<rect x="353.34" y="784.00" width="39.40" height="45.00" fill="#440154"/>
<rect x="395.23" y="784.00" width="39.40" height="45.00" fill="#440154"/>
<rect x="437.12" y="784.00" width="39.40" height="45.00" fill="#440154"/>
<rect x="479.01" y="784.00" width="39.40" height="45.00" fill="#440154"/>
<rect x="520.90" y="784.00" width="39.40" height="45.00" fill="#440154"/>
<rect x="562.79" y="784.00" width="39.40" height="45.00" fill="#440154"/>
<rect x="604.68" y="784.00" width="39.40" height="45.00" fill="#440154"/>
<rect x="646.57" y="784.00" width="39.40" height="45.00" fill="#440154"/>
<rect x="688.46" y="784.00" width="39.40" height="45.00" fill="#440154"/>
<rect x="730.35" y="784.00" width="39.40" height="45.00" fill="#440154"/>
<rect x="772.24" y="784.00" width="39.40" height="45.00" fill="#440154"/>
<rect x="814.13" y="784.00" width="39.40" height="45.00" fill="#440154"/>
<rect x="856.02" y="784.00" width="39.40" height="45.00" fill="#440154"/>
<rect x="897.91" y="784.00" width="39.09" height="45.00" fill="#440154"/>
<rect x="102.00" y="831.00" width="39.40" height="45.00" fill="#32688d"/>
<rect x="143.89" y="831.00" width="39.40" height="45.00" fill="#32688d"/>
<rect x="185.78" y="831.00" width="39.40" height="45.00" fill="#33658c"/>
<rect x="227.67" y="831.00" width="39.40" height="45.00" fill="#2e718f"/>
<rect x="269.56" y="831.00" width="39.40" height="45.00" fill="#2e718f"/>
<rect x="311.45" y="831.00" width="39.40" height="45.00" fill="#2e718f"/>
<rect x="353.34" y="831.00" width="39.40" height="45.00" fill="#2e718f"/>
<rect x="395.23" y="831.00" width="39.40" height="45.00" fill="#2e718f"/>
<rect x="437.12" y="831.00" width="39.40" height="45.00" fill="#2e718f"/>
<rect x="479.01" y="831.00" width="39.40" height="45.00" fill="#2e718f"/>
<rect x="520.90" y="831.00" width="39.40" height="45.00" fill="#3b528b"/>
<rect x="562.79" y="831.00" width="39.40" height="45.00" fill="#463c86"/>
<rect x="604.68" y="831.00" width="39.40" height="45.00" fill="#48357f"/>
<rect x="646.57" y="831.00" width="39.40" height="45.00" fill="#463c86"/>
<rect x="688.46" y="831.00" width="39.40" height="45.00" fill="#2e718f"/>
<rect x="730.35" y="831.00" width="39.40" height="45.00" fill="#2e718f"/>
<rect x="772.24" y="831.00" width="39.40" height="45.00" fill="#2e718f"/>
<rect x="814.13" y="831.00" width="39.40" height="45.00" fill="#2e718f"/>
<rect x="856.02" y="831.00" width="39.40" height="45.00" fill="#2e718f"/>
<rect x="897.91" y="831.00" width="39.09" height="45.00" fill="#3b528b"/>
<rect x="102.00" y="878.00" width="39.40" height="45.00" fill="#2e718f"/>
<rect x="143.89" y="878.00" width="39.40" height="45.00" fill="#2e718f"/>
<rect x="185.78" y="878.00" width="39.40" height="45.00" fill="#306c8e"/>
<rect x="227.67" y="878.00" width="39.40" height="45.00" fill="#2e718f"/>
<rect x="269.56" y="878.00" width="39.40" height="45.00" fill="#32688d"/>
<rect x="311.45" y="878.00" width="39.40" height="45.00" fill="#2e718f"/>
<rect x="353.34" y="878.00" width="39.40" height="45.00" fill="#2e718f"/>
<rect x="395.23" y="878.00" width="39.40" height="45.00" fill="#2e718f"/>
<rect x="437.12" y="878.00" width="39.40" height="45.00" fill="#2e718f"/>
<rect x="479.01" y="878.00" width="39.40" height="45.00" fill="#2e718f"/>
<rect x="520.90" y="878.00" width="39.40" height="45.00" fill="#48c16e"/>
<rect x="562.79" y="878.00" width="39.40" height="45.00" fill="#d8e219"/>
<rect x="604.68" y="878.00" width="39.40" height="45.00" fill="#fde725"/>
<rect x="646.57" y="878.00" width="39.40" height="45.00" fill="#d2e21b"/>
<rect x="688.46" y="878.00" width="39.40" height="45.00" fill="#2e718f"/>
<rect x="730.35" y="878.00" width="39.40" height="45.00" fill="#2e718f"/>
<rect x="772.24" y="878.00" width="39.40" height="45.00" fill="#2e718f"/>
<rect x="814.13" y="878.00" width="39.40" height="45.00" fill="#2e718f"/>
<rect x="856.02" y="878.00" width="39.40" height="45.00" fill="#2e718f"/>
<rect x="897.91" y="878.00" width="39.09" height="45.00" fill="#43bf71"/>
<path d="M98.5,453.5 H937.0" stroke="#46494e" stroke-width="1"/>
<path d="M98.5,500.5 H937.0" stroke="#46494e" stroke-width="1"/>
<path d="M98.5,547.5 H937.0" stroke="#46494e" stroke-width="1"/>
<path d="M98.5,594.5 H937.0" stroke="#46494e" stroke-width="1"/>
<path d="M98.5,641.5 H937.0" stroke="#46494e" stroke-width="1"/>
<path d="M98.5,688.5 H937.0" stroke="#46494e" stroke-width="1"/>
<path d="M98.5,735.5 H937.0" stroke="#46494e" stroke-width="1"/>
<path d="M98.5,783.5 H937.0" stroke="#46494e" stroke-width="1"/>
<path d="M98.5,830.5 H937.0" stroke="#46494e" stroke-width="1"/>
<path d="M98.5,877.5 H937.0" stroke="#46494e" stroke-width="1"/>
<path d="M98.5,924.5 H937.0" stroke="#46494e" stroke-width="1"/>
<path d="M101.5,453.5 V924.5" stroke="#46494e" stroke-width="1"/>
<path d="M185.5,453.5 V924.5" stroke="#46494e" stroke-width="1"/>
<path d="M269.5,453.5 V924.5" stroke="#46494e" stroke-width="1"/>
<path d="M352.5,453.5 V924.5" stroke="#46494e" stroke-width="1"/>
<path d="M436.5,453.5 V924.5" stroke="#46494e" stroke-width="1"/>
<path d="M520.5,453.5 V924.5" stroke="#46494e" stroke-width="1"/>
<path d="M604.5,453.5 V924.5" stroke="#46494e" stroke-width="1"/>
<path d="M687.5,453.5 V924.5" stroke="#46494e" stroke-width="1"/>
<path d="M771.5,453.5 V924.5" stroke="#46494e" stroke-width="1"/>
<path d="M855.5,453.5 V924.5" stroke="#46494e" stroke-width="1"/>
<text x="94.0" y="457.1" text-anchor="end" font-size="11.5" fill="#d0d1d9">+Inf</text>
<text x="94.0" y="504.1" text-anchor="end" font-size="11.5" fill="#d0d1d9">2.0</text>
<text x="94.0" y="551.1" text-anchor="end" font-size="11.5" fill="#d0d1d9">1.5</text>
<text x="94.0" y="598.1" text-anchor="end" font-size="11.5" fill="#d0d1d9">1.0</text>
<text x="94.0" y="645.1" text-anchor="end" font-size="11.5" fill="#d0d1d9">0.5</text>
<text x="94.0" y="692.1" text-anchor="end" font-size="11.5" fill="#d0d1d9">0</text>
<text x="94.0" y="739.1" text-anchor="end" font-size="11.5" fill="#d0d1d9">-0.5</text>
<text x="94.0" y="787.1" text-anchor="end" font-size="11.5" fill="#d0d1d9">-1.0</text>
<text x="94.0" y="834.1" text-anchor="end" font-size="11.5" fill="#d0d1d9">-1.5</text>
<text x="94.0" y="881.1" text-anchor="end" font-size="11.5" fill="#d0d1d9">-2.0</text>
<text x="101.5" y="941.7" text-anchor="middle" font-size="11" fill="#d0d1d9">14:04:00</text>
<text x="185.3" y="941.7" text-anchor="middle" font-size="11" fill="#d0d1d9">14:04:30</text>
<text x="269.1" y="941.7" text-anchor="middle" font-size="11" fill="#d0d1d9">14:05:00</text>
<text x="352.8" y="941.7" text-anchor="middle" font-size="11" fill="#d0d1d9">14:05:30</text>
<text x="436.6" y="941.7" text-anchor="middle" font-size="11" fill="#d0d1d9">14:06:00</text>
<text x="520.4" y="941.7" text-anchor="middle" font-size="11" fill="#d0d1d9">14:06:30</text>
<text x="604.2" y="941.7" text-anchor="middle" font-size="11" fill="#d0d1d9">14:07:00</text>
<text x="688.0" y="941.7" text-anchor="middle" font-size="11" fill="#d0d1d9">14:07:30</text>
<text x="771.7" y="941.7" text-anchor="middle" font-size="11" fill="#d0d1d9">14:08:00</text>
<text x="855.5" y="941.7" text-anchor="middle" font-size="11" fill="#d0d1d9">14:08:30</text>
</g><g font-family="Liberation Sans">
<rect x="1008.00" y="454.00" width="39.40" height="45.00" fill="#2e718f"/>
<rect x="1049.89" y="454.00" width="39.40" height="45.00" fill="#306c8e"/>
<rect x="1091.78" y="454.00" width="39.40" height="45.00" fill="#306c8e"/>
<rect x="1133.67" y="454.00" width="39.40" height="45.00" fill="#306c8e"/>
<rect x="1175.56" y="454.00" width="39.40" height="45.00" fill="#32688d"/>
<rect x="1217.45" y="454.00" width="39.40" height="45.00" fill="#2e718f"/>
<rect x="1259.34" y="454.00" width="39.40" height="45.00" fill="#2e718f"/>
<rect x="1301.23" y="454.00" width="39.40" height="45.00" fill="#2e718f"/>
<rect x="1343.12" y="454.00" width="39.40" height="45.00" fill="#2e718f"/>
<rect x="1385.01" y="454.00" width="39.40" height="45.00" fill="#2e718f"/>
<rect x="1426.90" y="454.00" width="39.40" height="45.00" fill="#48c16e"/>
<rect x="1468.79" y="454.00" width="39.40" height="45.00" fill="#d8e219"/>
<rect x="1510.68" y="454.00" width="39.40" height="45.00" fill="#fde725"/>
<rect x="1552.57" y="454.00" width="39.40" height="45.00" fill="#d2e21b"/>
<rect x="1594.46" y="454.00" width="39.40" height="45.00" fill="#306c8e"/>
<rect x="1636.35" y="454.00" width="39.40" height="45.00" fill="#306c8e"/>
<rect x="1678.24" y="454.00" width="39.40" height="45.00" fill="#2e718f"/>
<rect x="1720.13" y="454.00" width="39.40" height="45.00" fill="#2e718f"/>
<rect x="1762.02" y="454.00" width="39.40" height="45.00" fill="#2e718f"/>
<rect x="1803.91" y="454.00" width="39.09" height="45.00" fill="#43bf71"/>
<rect x="1008.00" y="501.00" width="39.40" height="45.00" fill="#32688d"/>
<rect x="1049.89" y="501.00" width="39.40" height="45.00" fill="#32688d"/>
<rect x="1091.78" y="501.00" width="39.40" height="45.00" fill="#33658c"/>
<rect x="1133.67" y="501.00" width="39.40" height="45.00" fill="#2e718f"/>
<rect x="1175.56" y="501.00" width="39.40" height="45.00" fill="#2e718f"/>
<rect x="1217.45" y="501.00" width="39.40" height="45.00" fill="#2e718f"/>
<rect x="1259.34" y="501.00" width="39.40" height="45.00" fill="#2e718f"/>
<rect x="1301.23" y="501.00" width="39.40" height="45.00" fill="#2e718f"/>
<rect x="1343.12" y="501.00" width="39.40" height="45.00" fill="#2e718f"/>
<rect x="1385.01" y="501.00" width="39.40" height="45.00" fill="#2e718f"/>
<rect x="1426.90" y="501.00" width="39.40" height="45.00" fill="#3b528b"/>
<rect x="1468.79" y="501.00" width="39.40" height="45.00" fill="#463c86"/>
<rect x="1510.68" y="501.00" width="39.40" height="45.00" fill="#48357f"/>
<rect x="1552.57" y="501.00" width="39.40" height="45.00" fill="#463c86"/>
<rect x="1594.46" y="501.00" width="39.40" height="45.00" fill="#2e718f"/>
<rect x="1636.35" y="501.00" width="39.40" height="45.00" fill="#2e718f"/>
<rect x="1678.24" y="501.00" width="39.40" height="45.00" fill="#2e718f"/>
<rect x="1720.13" y="501.00" width="39.40" height="45.00" fill="#2e718f"/>
<rect x="1762.02" y="501.00" width="39.40" height="45.00" fill="#2e718f"/>
<rect x="1803.91" y="501.00" width="39.09" height="45.00" fill="#3b528b"/>
<rect x="1008.00" y="548.00" width="39.40" height="45.00" fill="#440154"/>
<rect x="1049.89" y="548.00" width="39.40" height="45.00" fill="#440154"/>
<rect x="1091.78" y="548.00" width="39.40" height="45.00" fill="#440154"/>
<rect x="1133.67" y="548.00" width="39.40" height="45.00" fill="#440154"/>
<rect x="1175.56" y="548.00" width="39.40" height="45.00" fill="#440154"/>
<rect x="1217.45" y="548.00" width="39.40" height="45.00" fill="#440154"/>
<rect x="1259.34" y="548.00" width="39.40" height="45.00" fill="#440154"/>
<rect x="1301.23" y="548.00" width="39.40" height="45.00" fill="#440154"/>
<rect x="1343.12" y="548.00" width="39.40" height="45.00" fill="#440154"/>
<rect x="1385.01" y="548.00" width="39.40" height="45.00" fill="#440154"/>
<rect x="1426.90" y="548.00" width="39.40" height="45.00" fill="#440154"/>
<rect x="1468.79" y="548.00" width="39.40" height="45.00" fill="#440154"/>
<rect x="1510.68" y="548.00" width="39.40" height="45.00" fill="#440154"/>
<rect x="1552.57" y="548.00" width="39.40" height="45.00" fill="#440154"/>
<rect x="1594.46" y="548.00" width="39.40" height="45.00" fill="#440154"/>
<rect x="1636.35" y="548.00" width="39.40" height="45.00" fill="#440154"/>
<rect x="1678.24" y="548.00" width="39.40" height="45.00" fill="#440154"/>
<rect x="1720.13" y="548.00" width="39.40" height="45.00" fill="#440154"/>
<rect x="1762.02" y="548.00" width="39.40" height="45.00" fill="#440154"/>
<rect x="1803.91" y="548.00" width="39.09" height="45.00" fill="#440154"/>
<rect x="1008.00" y="595.00" width="39.40" height="45.00" fill="#440154"/>
<rect x="1049.89" y="595.00" width="39.40" height="45.00" fill="#440154"/>
<rect x="1091.78" y="595.00" width="39.40" height="45.00" fill="#440154"/>
<rect x="1133.67" y="595.00" width="39.40" height="45.00" fill="#440154"/>
<rect x="1175.56" y="595.00" width="39.40" height="45.00" fill="#440154"/>
<rect x="1217.45" y="595.00" width="39.40" height="45.00" fill="#440154"/>
<rect x="1259.34" y="595.00" width="39.40" height="45.00" fill="#440154"/>
<rect x="1301.23" y="595.00" width="39.40" height="45.00" fill="#440154"/>
<rect x="1343.12" y="595.00" width="39.40" height="45.00" fill="#440154"/>
<rect x="1385.01" y="595.00" width="39.40" height="45.00" fill="#440154"/>
<rect x="1426.90" y="595.00" width="39.40" height="45.00" fill="#440154"/>
<rect x="1468.79" y="595.00" width="39.40" height="45.00" fill="#440154"/>
<rect x="1510.68" y="595.00" width="39.40" height="45.00" fill="#440154"/>
<rect x="1552.57" y="595.00" width="39.40" height="45.00" fill="#440154"/>
<rect x="1594.46" y="595.00" width="39.40" height="45.00" fill="#440154"/>
<rect x="1636.35" y="595.00" width="39.40" height="45.00" fill="#440154"/>
<rect x="1678.24" y="595.00" width="39.40" height="45.00" fill="#440154"/>
<rect x="1720.13" y="595.00" width="39.40" height="45.00" fill="#440154"/>
<rect x="1762.02" y="595.00" width="39.40" height="45.00" fill="#440154"/>
<rect x="1803.91" y="595.00" width="39.09" height="45.00" fill="#440154"/>
<rect x="1008.00" y="642.00" width="39.40" height="45.00" fill="#440154"/>
<rect x="1049.89" y="642.00" width="39.40" height="45.00" fill="#440154"/>
<rect x="1091.78" y="642.00" width="39.40" height="45.00" fill="#440154"/>
<rect x="1133.67" y="642.00" width="39.40" height="45.00" fill="#440154"/>
<rect x="1175.56" y="642.00" width="39.40" height="45.00" fill="#440154"/>
<rect x="1217.45" y="642.00" width="39.40" height="45.00" fill="#440154"/>
<rect x="1259.34" y="642.00" width="39.40" height="45.00" fill="#440154"/>
<rect x="1301.23" y="642.00" width="39.40" height="45.00" fill="#440154"/>
<rect x="1343.12" y="642.00" width="39.40" height="45.00" fill="#440154"/>
<rect x="1385.01" y="642.00" width="39.40" height="45.00" fill="#440154"/>
<rect x="1426.90" y="642.00" width="39.40" height="45.00" fill="#440154"/>
<rect x="1468.79" y="642.00" width="39.40" height="45.00" fill="#440154"/>
<rect x="1510.68" y="642.00" width="39.40" height="45.00" fill="#440154"/>
<rect x="1552.57" y="642.00" width="39.40" height="45.00" fill="#440154"/>
<rect x="1594.46" y="642.00" width="39.40" height="45.00" fill="#440154"/>
<rect x="1636.35" y="642.00" width="39.40" height="45.00" fill="#440154"/>
<rect x="1678.24" y="642.00" width="39.40" height="45.00" fill="#440154"/>
<rect x="1720.13" y="642.00" width="39.40" height="45.00" fill="#440154"/>
<rect x="1762.02" y="642.00" width="39.40" height="45.00" fill="#440154"/>
<rect x="1803.91" y="642.00" width="39.09" height="45.00" fill="#440154"/>
<rect x="1008.00" y="689.00" width="39.40" height="45.00" fill="#440154"/>
<rect x="1049.89" y="689.00" width="39.40" height="45.00" fill="#440154"/>
<rect x="1091.78" y="689.00" width="39.40" height="45.00" fill="#440154"/>
<rect x="1133.67" y="689.00" width="39.40" height="45.00" fill="#440154"/>
<rect x="1175.56" y="689.00" width="39.40" height="45.00" fill="#440154"/>
<rect x="1217.45" y="689.00" width="39.40" height="45.00" fill="#440154"/>
<rect x="1259.34" y="689.00" width="39.40" height="45.00" fill="#440154"/>
<rect x="1301.23" y="689.00" width="39.40" height="45.00" fill="#440154"/>
<rect x="1343.12" y="689.00" width="39.40" height="45.00" fill="#440154"/>
<rect x="1385.01" y="689.00" width="39.40" height="45.00" fill="#440154"/>
<rect x="1426.90" y="689.00" width="39.40" height="45.00" fill="#440154"/>
<rect x="1468.79" y="689.00" width="39.40" height="45.00" fill="#440154"/>
<rect x="1510.68" y="689.00" width="39.40" height="45.00" fill="#440154"/>
<rect x="1552.57" y="689.00" width="39.40" height="45.00" fill="#440154"/>
<rect x="1594.46" y="689.00" width="39.40" height="45.00" fill="#440154"/>
<rect x="1636.35" y="689.00" width="39.40" height="45.00" fill="#440154"/>
<rect x="1678.24" y="689.00" width="39.40" height="45.00" fill="#440154"/>
<rect x="1720.13" y="689.00" width="39.40" height="45.00" fill="#440154"/>
<rect x="1762.02" y="689.00" width="39.40" height="45.00" fill="#440154"/>
<rect x="1803.91" y="689.00" width="39.09" height="45.00" fill="#440154"/>
<rect x="1008.00" y="736.00" width="39.40" height="46.00" fill="#32688d"/>
<rect x="1049.89" y="736.00" width="39.40" height="46.00" fill="#2e718f"/>
<rect x="1091.78" y="736.00" width="39.40" height="46.00" fill="#2e718f"/>
<rect x="1133.67" y="736.00" width="39.40" height="46.00" fill="#2e718f"/>
<rect x="1175.56" y="736.00" width="39.40" height="46.00" fill="#2e718f"/>
<rect x="1217.45" y="736.00" width="39.40" height="46.00" fill="#2e718f"/>
<rect x="1259.34" y="736.00" width="39.40" height="46.00" fill="#2e718f"/>
<rect x="1301.23" y="736.00" width="39.40" height="46.00" fill="#2e718f"/>
<rect x="1343.12" y="736.00" width="39.40" height="46.00" fill="#2e718f"/>
<rect x="1385.01" y="736.00" width="39.40" height="46.00" fill="#2e718f"/>
<rect x="1426.90" y="736.00" width="39.40" height="46.00" fill="#3b528b"/>
<rect x="1468.79" y="736.00" width="39.40" height="46.00" fill="#463c86"/>
<rect x="1510.68" y="736.00" width="39.40" height="46.00" fill="#48357f"/>
<rect x="1552.57" y="736.00" width="39.40" height="46.00" fill="#463c86"/>
<rect x="1594.46" y="736.00" width="39.40" height="46.00" fill="#2e718f"/>
<rect x="1636.35" y="736.00" width="39.40" height="46.00" fill="#2e718f"/>
<rect x="1678.24" y="736.00" width="39.40" height="46.00" fill="#2e718f"/>
<rect x="1720.13" y="736.00" width="39.40" height="46.00" fill="#2e718f"/>
<rect x="1762.02" y="736.00" width="39.40" height="46.00" fill="#2e718f"/>
<rect x="1803.91" y="736.00" width="39.09" height="46.00" fill="#3b528b"/>
<rect x="1008.00" y="784.00" width="39.40" height="45.00" fill="#2e718f"/>
<rect x="1049.89" y="784.00" width="39.40" height="45.00" fill="#32688d"/>
<rect x="1091.78" y="784.00" width="39.40" height="45.00" fill="#33658c"/>
<rect x="1133.67" y="784.00" width="39.40" height="45.00" fill="#2e718f"/>
<rect x="1175.56" y="784.00" width="39.40" height="45.00" fill="#2e718f"/>
<rect x="1217.45" y="784.00" width="39.40" height="45.00" fill="#2e718f"/>
<rect x="1259.34" y="784.00" width="39.40" height="45.00" fill="#2e718f"/>
<rect x="1301.23" y="784.00" width="39.40" height="45.00" fill="#2e718f"/>
<rect x="1343.12" y="784.00" width="39.40" height="45.00" fill="#2e718f"/>
<rect x="1385.01" y="784.00" width="39.40" height="45.00" fill="#2e718f"/>
<rect x="1426.90" y="784.00" width="39.40" height="45.00" fill="#3b528b"/>
<rect x="1468.79" y="784.00" width="39.40" height="45.00" fill="#463c86"/>
<rect x="1510.68" y="784.00" width="39.40" height="45.00" fill="#48357f"/>
<rect x="1552.57" y="784.00" width="39.40" height="45.00" fill="#463c86"/>
<rect x="1594.46" y="784.00" width="39.40" height="45.00" fill="#2e718f"/>
<rect x="1636.35" y="784.00" width="39.40" height="45.00" fill="#2e718f"/>
<rect x="1678.24" y="784.00" width="39.40" height="45.00" fill="#2e718f"/>
<rect x="1720.13" y="784.00" width="39.40" height="45.00" fill="#2e718f"/>
<rect x="1762.02" y="784.00" width="39.40" height="45.00" fill="#2e718f"/>
<rect x="1803.91" y="784.00" width="39.09" height="45.00" fill="#3b528b"/>
<rect x="1008.00" y="831.00" width="39.40" height="45.00" fill="#440154"/>
<rect x="1049.89" y="831.00" width="39.40" height="45.00" fill="#440154"/>
<rect x="1091.78" y="831.00" width="39.40" height="45.00" fill="#440154"/>
<rect x="1133.67" y="831.00" width="39.40" height="45.00" fill="#440154"/>
<rect x="1175.56" y="831.00" width="39.40" height="45.00" fill="#440154"/>
<rect x="1217.45" y="831.00" width="39.40" height="45.00" fill="#440154"/>
<rect x="1259.34" y="831.00" width="39.40" height="45.00" fill="#440154"/>
<rect x="1301.23" y="831.00" width="39.40" height="45.00" fill="#440154"/>
<rect x="1343.12" y="831.00" width="39.40" height="45.00" fill="#440154"/>
<rect x="1385.01" y="831.00" width="39.40" height="45.00" fill="#440154"/>
<rect x="1426.90" y="831.00" width="39.40" height="45.00" fill="#440154"/>
<rect x="1468.79" y="831.00" width="39.40" height="45.00" fill="#440154"/>
<rect x="1510.68" y="831.00" width="39.40" height="45.00" fill="#440154"/>
<rect x="1552.57" y="831.00" width="39.40" height="45.00" fill="#440154"/>
<rect x="1594.46" y="831.00" width="39.40" height="45.00" fill="#440154"/>
<rect x="1636.35" y="831.00" width="39.40" height="45.00" fill="#440154"/>
<rect x="1678.24" y="831.00" width="39.40" height="45.00" fill="#440154"/>
<rect x="1720.13" y="831.00" width="39.40" height="45.00" fill="#440154"/>
<rect x="1762.02" y="831.00" width="39.40" height="45.00" fill="#440154"/>
<rect x="1803.91" y="831.00" width="39.09" height="45.00" fill="#440154"/>
<rect x="1008.00" y="878.00" width="39.40" height="45.00" fill="#440154"/>
<rect x="1049.89" y="878.00" width="39.40" height="45.00" fill="#440154"/>
<rect x="1091.78" y="878.00" width="39.40" height="45.00" fill="#440154"/>
<rect x="1133.67" y="878.00" width="39.40" height="45.00" fill="#440154"/>
<rect x="1175.56" y="878.00" width="39.40" height="45.00" fill="#440154"/>
<rect x="1217.45" y="878.00" width="39.40" height="45.00" fill="#440154"/>
<rect x="1259.34" y="878.00" width="39.40" height="45.00" fill="#440154"/>
<rect x="1301.23" y="878.00" width="39.40" height="45.00" fill="#440154"/>
<rect x="1343.12" y="878.00" width="39.40" height="45.00" fill="#440154"/>
<rect x="1385.01" y="878.00" width="39.40" height="45.00" fill="#440154"/>
<rect x="1426.90" y="878.00" width="39.40" height="45.00" fill="#440154"/>
<rect x="1468.79" y="878.00" width="39.40" height="45.00" fill="#440154"/>
<rect x="1510.68" y="878.00" width="39.40" height="45.00" fill="#440154"/>
<rect x="1552.57" y="878.00" width="39.40" height="45.00" fill="#440154"/>
<rect x="1594.46" y="878.00" width="39.40" height="45.00" fill="#440154"/>
<rect x="1636.35" y="878.00" width="39.40" height="45.00" fill="#440154"/>
<rect x="1678.24" y="878.00" width="39.40" height="45.00" fill="#440154"/>
<rect x="1720.13" y="878.00" width="39.40" height="45.00" fill="#440154"/>
<rect x="1762.02" y="878.00" width="39.40" height="45.00" fill="#440154"/>
<rect x="1803.91" y="878.00" width="39.09" height="45.00" fill="#440154"/>
<path d="M1004.5,453.5 H1843.0" stroke="#46494e" stroke-width="1"/>
<path d="M1004.5,500.5 H1843.0" stroke="#46494e" stroke-width="1"/>
<path d="M1004.5,547.5 H1843.0" stroke="#46494e" stroke-width="1"/>
<path d="M1004.5,594.5 H1843.0" stroke="#46494e" stroke-width="1"/>
<path d="M1004.5,641.5 H1843.0" stroke="#46494e" stroke-width="1"/>
<path d="M1004.5,688.5 H1843.0" stroke="#46494e" stroke-width="1"/>
<path d="M1004.5,735.5 H1843.0" stroke="#46494e" stroke-width="1"/>
<path d="M1004.5,783.5 H1843.0" stroke="#46494e" stroke-width="1"/>
<path d="M1004.5,830.5 H1843.0" stroke="#46494e" stroke-width="1"/>
<path d="M1004.5,877.5 H1843.0" stroke="#46494e" stroke-width="1"/>
<path d="M1004.5,924.5 H1843.0" stroke="#46494e" stroke-width="1"/>
<path d="M1007.5,453.5 V924.5" stroke="#46494e" stroke-width="1"/>
<path d="M1091.5,453.5 V924.5" stroke="#46494e" stroke-width="1"/>
<path d="M1175.5,453.5 V924.5" stroke="#46494e" stroke-width="1"/>
<path d="M1258.5,453.5 V924.5" stroke="#46494e" stroke-width="1"/>
<path d="M1342.5,453.5 V924.5" stroke="#46494e" stroke-width="1"/>
<path d="M1426.5,453.5 V924.5" stroke="#46494e" stroke-width="1"/>
<path d="M1510.5,453.5 V924.5" stroke="#46494e" stroke-width="1"/>
<path d="M1593.5,453.5 V924.5" stroke="#46494e" stroke-width="1"/>
<path d="M1677.5,453.5 V924.5" stroke="#46494e" stroke-width="1"/>
<path d="M1761.5,453.5 V924.5" stroke="#46494e" stroke-width="1"/>
<text x="1000.0" y="457.1" text-anchor="end" font-size="11.5" fill="#d0d1d9">+Inf</text>
<text x="1000.0" y="504.1" text-anchor="end" font-size="11.5" fill="#d0d1d9">2.0</text>
<text x="1000.0" y="551.1" text-anchor="end" font-size="11.5" fill="#d0d1d9">1.5</text>
<text x="1000.0" y="598.1" text-anchor="end" font-size="11.5" fill="#d0d1d9">1.0</text>
<text x="1000.0" y="645.1" text-anchor="end" font-size="11.5" fill="#d0d1d9">0.5</text>
<text x="1000.0" y="692.1" text-anchor="end" font-size="11.5" fill="#d0d1d9">0</text>
<text x="1000.0" y="739.1" text-anchor="end" font-size="11.5" fill="#d0d1d9">-0.5</text>
<text x="1000.0" y="787.1" text-anchor="end" font-size="11.5" fill="#d0d1d9">-1.0</text>
<text x="1000.0" y="834.1" text-anchor="end" font-size="11.5" fill="#d0d1d9">-1.5</text>
<text x="1000.0" y="881.1" text-anchor="end" font-size="11.5" fill="#d0d1d9">-2.0</text>
<text x="1007.5" y="941.7" text-anchor="middle" font-size="11" fill="#d0d1d9">14:04:00</text>
<text x="1091.3" y="941.7" text-anchor="middle" font-size="11" fill="#d0d1d9">14:04:30</text>
<text x="1175.1" y="941.7" text-anchor="middle" font-size="11" fill="#d0d1d9">14:05:00</text>
<text x="1258.8" y="941.7" text-anchor="middle" font-size="11" fill="#d0d1d9">14:05:30</text>
<text x="1342.6" y="941.7" text-anchor="middle" font-size="11" fill="#d0d1d9">14:06:00</text>
<text x="1426.4" y="941.7" text-anchor="middle" font-size="11" fill="#d0d1d9">14:06:30</text>
<text x="1510.2" y="941.7" text-anchor="middle" font-size="11" fill="#d0d1d9">14:07:00</text>
<text x="1594.0" y="941.7" text-anchor="middle" font-size="11" fill="#d0d1d9">14:07:30</text>
<text x="1677.7" y="941.7" text-anchor="middle" font-size="11" fill="#d0d1d9">14:08:00</text>
<text x="1761.5" y="941.7" text-anchor="middle" font-size="11" fill="#d0d1d9">14:08:30</text>
</g></svg>
</body></html>
